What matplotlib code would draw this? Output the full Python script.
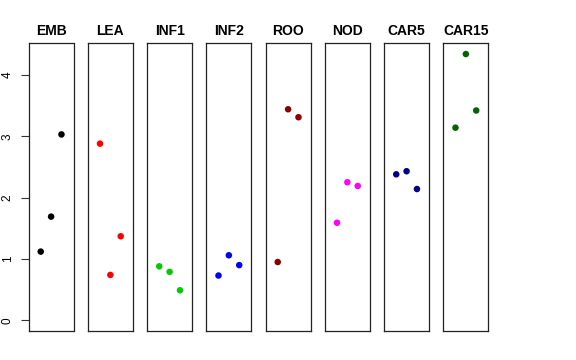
import numpy as np
import matplotlib
matplotlib.use("Agg")
import matplotlib.pyplot as plt

plt.rcParams['font.family'] = ['Liberation Sans', 'DejaVu Sans']

tissues = ["EMB", "LEA", "INF1", "INF2", "ROO", "NOD", "CAR5", "CAR15"]
colors = ["black", "red", "#00CD00", "blue", "#8B0000", "magenta", "#00008B", "#006400"]
reps = [1, 2, 3]
values = [
    [1.12, 1.69, 3.03],
    [2.88, 0.74, 1.37],
    [0.88, 0.79, 0.49],
    [0.73, 1.06, 0.90],
    [0.95, 3.44, 3.31],
    [1.59, 2.25, 2.19],
    [2.38, 2.43, 2.14],
    [3.14, 4.34, 3.42],
]

W, H = 576, 360
fig = plt.figure(figsize=(W / 100, H / 100), dpi=100)

left0 = 28.7
step = 59.25
pw = 44.8
top, bottom = 43, 331

for i, (name, col, vals) in enumerate(zip(tissues, colors, values)):
    x0 = left0 + i * step
    ax = fig.add_axes([x0 / W, (H - bottom) / H, pw / W, (bottom - top) / H])
    ax.scatter(reps, vals, s=22, color=col, edgecolors='none', zorder=3)
    ax.set_xlim(-0.16, 4.16)
    ax.set_ylim(-0.174, 4.52)
    ax.set_xticks([])
    for sp in ax.spines.values():
        sp.set_linewidth(0.9)
        sp.set_color('#222222')
    ax.set_title(name, fontsize=10, fontweight='bold', pad=6)
    if i == 0:
        ax.set_yticks([0, 1, 2, 3, 4])
        ax.tick_params(axis='y', length=5.8, width=0.8, color='#333333', labelsize=8.5, pad=5)
        for lab in ax.get_yticklabels():
            lab.set_rotation(90)
            lab.set_va('center')
    else:
        ax.set_yticks([])

fig.savefig("out.png", dpi=100)
